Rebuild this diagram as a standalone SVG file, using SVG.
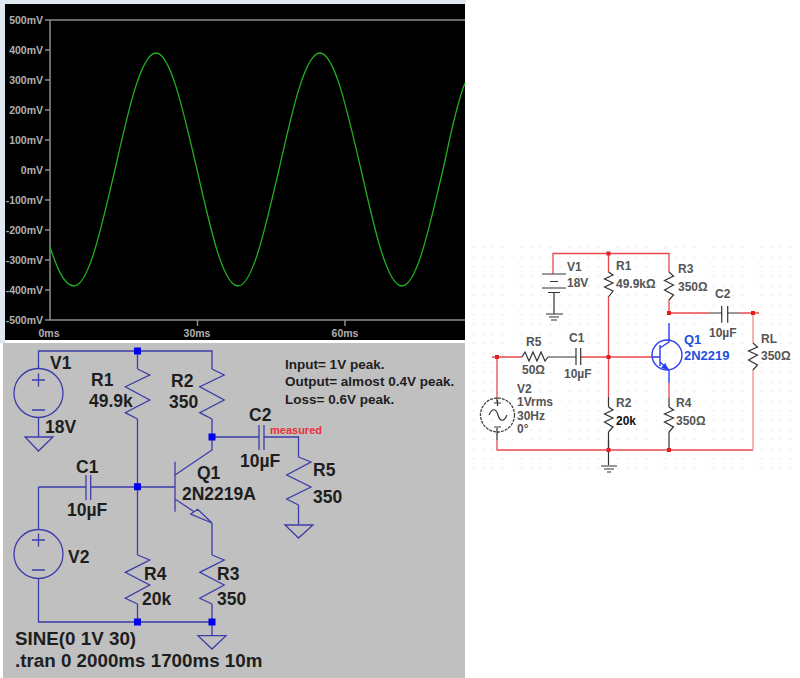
<svg xmlns="http://www.w3.org/2000/svg" width="800" height="678" viewBox="0 0 800 678">
<style>
text{font-family:"Liberation Sans",Arial,sans-serif}
.ax{fill:#b0b0b0;font-size:10.500px;font-weight:bold}
.axl{stroke:#8c8c8c;stroke-width:1.5;fill:none}
.w{stroke:#3c3ca8;stroke-width:1.3;fill:none}
.lt{fill:#1e1e1e;font-size:17.500px;font-weight:bold}
.note{fill:#1e1e1e;font-size:13.500px;font-weight:bold}
.j{fill:#0000ee}
.r{stroke:#e8484c;stroke-width:1.3;fill:none}
.p{stroke:#f29a9c;stroke-width:1.5;fill:none}
.k{stroke:#333;stroke-width:1.2;fill:none}
.b{stroke:#2a3cf0;stroke-width:1.4;fill:none}
.ms{fill:#555;font-size:12px;font-weight:bold}
.mb{fill:#1e4fe0;font-size:13px;font-weight:bold}
.dot{fill:#e41e20}
</style>
<defs>
<pattern id="grid" width="9.6" height="9.6" patternUnits="userSpaceOnUse" x="472" y="246"><rect x="1" y="1" width="1.3" height="1.3" fill="#dedede"/></pattern>
</defs>
<rect width="800" height="678" fill="#fff"/>
<rect x="0" y="0" width="466" height="4" fill="#dfe8f1"/>
<rect x="0" y="0" width="5" height="343" fill="#dfe8f1"/>
<g id="plot">
<rect x="5" y="4" width="460" height="336" fill="#000"/>
<path class="axl" d="M50 20H465M50 20V320M50 320H465M45 20H50M45 50H50M45 80H50M45 110H50M45 140H50M45 170H50M45 200H50M45 230H50M45 260H50M45 290H50M45 320H50M197.500 320V326M345 320V326"/>
<g class="ax" text-anchor="end">
<text x="43" y="24">500mV</text><text x="43" y="54">400mV</text><text x="43" y="84">300mV</text><text x="43" y="114">200mV</text><text x="43" y="144">100mV</text><text x="43" y="174">0mV</text><text x="43" y="204">-100mV</text><text x="43" y="234">-200mV</text><text x="43" y="264">-300mV</text><text x="43" y="294">-400mV</text><text x="43" y="324">-500mV</text>
</g>
<g class="ax" text-anchor="middle"><text x="49" y="337">0ms</text><text x="197" y="337">30ms</text><text x="345" y="337">60ms</text></g>
<path d="M50 247C55 262 63 286 74 286C88.800 286 101.600 226.300 115 169.500C128.400 109.800 141.200 53 156 53C170.800 53 183.600 112.700 197 169.500C210.400 229.200 223.200 286 238 286C252.800 286 265.600 226.300 279 169.500C292.400 109.800 305.200 53 320 53C334.800 53 347.600 112.700 361 169.500C374.400 229.200 387.200 286 402 286C416.800 286 429.600 226.300 443 169.500C449 143 456 105 465 83" fill="none" stroke="#1fb01f" stroke-width="1.300"/>
</g>
<rect x="3" y="343" width="462" height="335" fill="#c0c0c0"/>
<g id="ltspice-wires">
<path class="w" d="M38.500 368.500V351H212V369M38.500 417.500V437M137.500 351V369M137.500 419V555M137.500 604V622M212 419V450L175 475M38.500 487V529.500M38.500 578.500V622H212V635.700M38.500 487H86M90.700 487H175M212 437H259M264 437H298.500V457M298.500 505V525M212 523V555M212 604V622"/>
<path class="w" d="M137.500 369L149.700 375L125.300 386.700L149.700 400L125.300 412.700L137.500 419M212 369L224.200 375L199.800 386.700L224.200 400L199.800 412.700L212 419M137.500 555L149.700 560L125.300 572.300L149.700 585L125.300 598.300L137.500 604M212 555L224.200 560L199.800 572.300L224.200 585L199.800 598.300L212 604M298.500 457L311 462L286.700 475L311 487L286.700 499L298.500 505"/>
<path class="w" d="M175 461.700V511.700M175 499L194 511.700M212 523L190.700 514L197.700 509.300ZM86 475V500M90.700 475V500M259 425V450M264 425V450"/>
<path class="w" d="M25 437H53L38.500 451ZM198 635.700H226L212 649ZM285 525H313L298.500 538ZM32 380H45M38.500 373.500V386.500M32 410H45M32 540H45M38.500 533.500V546.500M32 570H45"/>
<circle class="w" cx="38.500" cy="393" r="24.500"/>
<circle class="w" cx="38.500" cy="554" r="24.500"/>
<path class="j" d="M134 347.500h7v7h-7zM134 483.200h7v7h-7zM208.500 433.500h7v7h-7zM134 618.500h7v7h-7zM208.500 618.500h7v7h-7z"/>
</g>
<g id="ltspice-labels" class="lt">
<text x="50" y="369">V1</text><text x="45" y="433">18V</text><text x="91" y="386">R1</text><text x="89" y="406.500">49.9k</text><text x="171" y="387">R2</text><text x="169" y="407.500">350</text><text x="76" y="473">C1</text><text x="67" y="516">10µF</text><text x="197" y="479">Q1</text><text x="182" y="500">2N2219A</text><text x="68" y="563">V2</text><text x="144" y="580">R4</text><text x="142" y="605">20k</text><text x="217" y="580">R3</text><text x="217" y="605">350</text><text x="249" y="421">C2</text><text x="240" y="467">10µF</text><text x="313" y="476">R5</text><text x="313" y="503">350</text><text x="15" y="645" style="font-size:18.800px">SINE(0 1V 30)</text><text x="15" y="667" style="font-size:18.800px">.tran 0 2000ms 1700ms 10m</text>
<text class="note" x="285" y="369">Input= 1V peak.</text><text class="note" x="285" y="386">Output= almost 0.4V peak.</text><text class="note" x="285" y="404">Loss= 0.6V peak.</text>
<text x="270" y="434" style="fill:#e8303a;font-size:11px">measured</text>
</g>
<rect x="472" y="246" width="323" height="232" fill="url(#grid)"/>
<g id="multisim-wires">
<path class="r" d="M553 274V253.500H669V272M608.500 253.500V272M608.500 297V397M608.500 440V450M669 300V313H710M740 313H759M492 357H522M580.700 357H652M497 357V398M497 440V450H753M669 383V398M669 448V450"/>
<path class="p" d="M753 313V343M753 370V450"/>
<path class="k" d="M542 274H566M550 281.500H558M542 288H566M548 292.500H560M554 292.500V314M546 314H563M549 317H559M551 320H557M548 357H576M710 313H721.700M727.700 313H740M576 348V365M580.700 348V365M721.700 306V322.700M727.700 306V322.700M669 398V407M669 432V448M608.500 397V407M608.500 432V465M601 466H617M604 469H614M607 472H611"/>
<path class="k" d="M608.500 272L613 275L604.500 279L613 283L604.500 287L613 291L608.500 297M669 272L673.500 276L664.500 280.500L673.500 285L664.500 290L673.500 295L669 300M753 343L757.500 347L748.500 351L757.500 355L748.500 360L757.500 365L753 370M608.500 407L613 410L604.500 414L613 418L604.500 422L613 427L608.500 432M669 407L673.500 410L664.500 414L673.500 418L664.500 422L673.500 427L669 432M522 357L525 352L529 361L533 352L537 361L541 352L545 361L548 357"/>
<circle cx="497.500" cy="415" r="17" fill="none" stroke="#444" stroke-width="1.300" stroke-dasharray="3 1"/>
<path class="k" d="M497 398V402M497 428V440M494 403H501M497.500 400V406M494 427H501M489 415C492 408 496 408 498 415C500 422 504 422 507 415"/>
<path class="dot" d="M495 355h4v4h-4zM606.500 251.500h4v4h-4zM606.500 355h4v4h-4zM606.500 448h4v4h-4zM667 311h4v4h-4zM751 311h4v4h-4zM667 448h4v4h-4z"/>
</g>
<g id="multisim-q1">
<circle class="b" cx="667" cy="355" r="15"/>
<path class="b" d="M669 323V342L660 348M669 383V370L660 362M660 345V366M652 357H660"/>
<path d="M669 370L661 368L665 363Z" fill="#2a3cf0"/>
</g>
<g id="multisim-labels" class="ms">
<text x="567" y="271">V1</text><text x="567" y="287">18V</text><text x="616" y="270">R1</text><text x="616" y="288">49.9kΩ</text><text x="678" y="273">R3</text><text x="678" y="291">350Ω</text><text x="715" y="298">C2</text><text x="709" y="337">10µF</text><text x="761" y="343">RL</text><text x="761" y="360">350Ω</text><text x="526" y="346">R5</text><text x="522" y="374">50Ω</text><text x="569" y="342">C1</text><text x="564" y="378">10µF</text><text x="517" y="393">V2</text><text x="517" y="406">1Vrms</text><text x="517" y="420">30Hz</text><text x="517" y="433">0°</text><text x="616" y="407">R2</text><text x="616" y="425" style="fill:#111">20k</text><text x="676" y="407">R4</text><text x="676" y="425">350Ω</text>
<text class="mb" x="684" y="344">Q1</text><text class="mb" x="684" y="360">2N2219</text>
</g>
</svg>
